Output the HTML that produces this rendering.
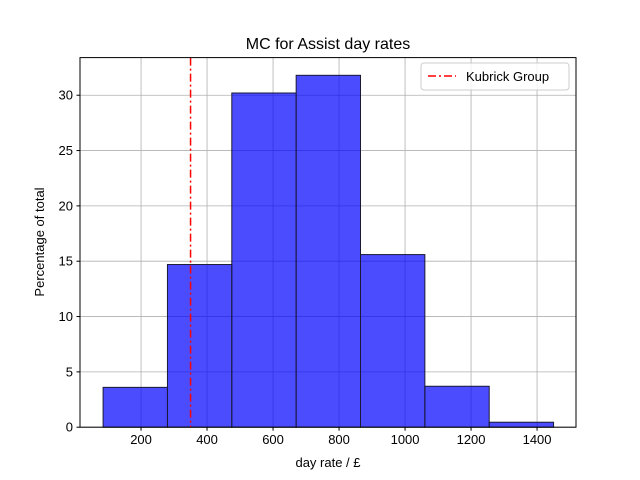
<!DOCTYPE html>
<html><head><meta charset="utf-8"><style>
body{margin:0;background:#fff;}
svg{display:block;font-family:"Liberation Sans","DejaVu Sans",sans-serif;}
</style></head><body>
<svg id="chart" width="640" height="480">
<rect width="640" height="480" fill="#fff"/>
<text x="328" y="49" text-anchor="middle" font-size="16">MC for Assist day rates</text>
<g id="grid"></g>
<g id="bars"></g>
<g id="ticks"></g>
<rect x="80" y="57.6" width="496" height="369.6" fill="none" stroke="#000" stroke-width="1"/>
<text x="328" y="467" text-anchor="middle" font-size="13">day rate / £</text>
<text transform="translate(44,242) rotate(-90)" text-anchor="middle" font-size="13">Percentage of total</text>
<g>
<rect x="421" y="63" width="148" height="27" rx="3" fill="#fff" fill-opacity="0.8" stroke="#ccc"/>
<line x1="428" y1="76" x2="456" y2="76" stroke="red" stroke-width="1.5" stroke-dasharray="8,3,2,3"/>
<text x="466" y="81" font-size="13">Kubrick Group</text>
</g>
</svg>
<script>
const binEdges=[85,280,475,670,865,1060,1255,1450];
const percentages=[3.6,14.7,30.2,31.8,15.6,3.7,0.45];
const xTicks=[200,400,600,800,1000,1200,1400];
const yTicks=[0,5,10,15,20,25,30];
const kubrickRate=[350];
const NS="http://www.w3.org/2000/svg";
const X0=80,X1=576,Y0=427.2,Y1=57.6,xmin=15,xmax=1518,ymin=0,ymax=33.4;
const xs=v=>X0+(v-xmin)/(xmax-xmin)*(X1-X0);
const ys=v=>Y0-(v-ymin)/(ymax-ymin)*(Y0-Y1);
function mk(t,a,p){const e=document.createElementNS(NS,t);for(const k in a)e.setAttribute(k,a[k]);p.appendChild(e);return e;}
const grid=document.getElementById('grid'),bars=document.getElementById('bars'),ticks=document.getElementById('ticks');
xTicks.forEach(v=>{const x=xs(v);
const g=mk('line',{x1:x,x2:x,y1:Y1,y2:Y0,stroke:'#b0b0b0','stroke-width':0.8},grid);


const t=mk('line',{x1:x,x2:x,y1:Y0,y2:Y0+3.5,stroke:'#000'},ticks);


const l=mk('text',{x:x,y:Y0+17,'text-anchor':'middle','font-size':13},ticks);l.textContent=v;

});
yTicks.forEach(v=>{const y=ys(v);
const g=mk('line',{x1:X0,x2:X1,y1:y,y2:y,stroke:'#b0b0b0','stroke-width':0.8},grid);


const t=mk('line',{x1:X0-3.5,x2:X0,y1:y,y2:y,stroke:'#000'},ticks);


const l=mk('text',{x:X0-7,y:y+4.5,'text-anchor':'end','font-size':13},ticks);l.textContent=v;

});
percentages.forEach((p,i)=>{const x=xs(binEdges[i]),w=xs(binEdges[i+1])-x,y=ys(p);
const r=mk('rect',{x:x,y:y,width:w,height:Y0-y,fill:'rgba(0,0,255,0.7)',stroke:'#1a1a33','stroke-width':1},bars);

});
kubrickRate.forEach(v=>{const x=xs(v);
const l=mk('line',{x1:x,x2:x,y1:Y1,y2:Y0,stroke:'red','stroke-width':1.5,'stroke-dasharray':'8,3,2,3'},bars);

});
</script>
</body></html>
